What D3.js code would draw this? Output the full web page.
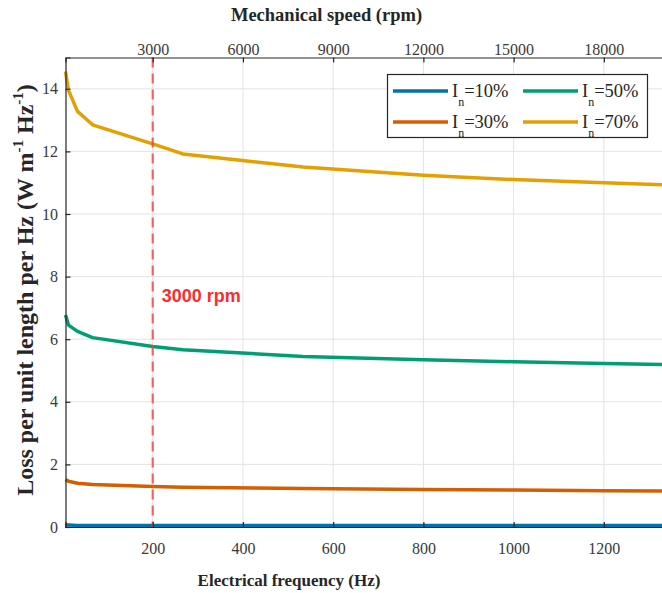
<!DOCTYPE html>
<html><head><meta charset="utf-8">
<script src="https://cdn.jsdelivr.net/npm/d3@7/dist/d3.min.js"></script>
<style>
html,body{margin:0;padding:0;background:#fff;overflow:hidden;}
text{font-family:"Liberation Serif","Times New Roman",serif;}
</style></head>
<body><svg id="c" width="662" height="593"></svg>
<script>
const freqHz = [6.67, 13.3, 33.3, 66.7, 200, 266.7, 533.3, 800, 1000, 1200, 1333.3];
const series10 = [0.06, 0.06, 0.05, 0.05, 0.05, 0.05, 0.05, 0.05, 0.05, 0.05, 0.05];
const series30 = [1.52, 1.46, 1.40, 1.36, 1.29, 1.27, 1.23, 1.20, 1.18, 1.16, 1.15];
const series50 = [6.77, 6.45, 6.25, 6.05, 5.77, 5.66, 5.45, 5.34, 5.28, 5.22, 5.19];
const series70 = [14.55, 13.95, 13.28, 12.85, 12.24, 11.92, 11.5, 11.24, 11.1, 11.0, 10.93];
const seriesNames = ["10%", "30%", "50%", "70%"];
const seriesColors = ["#0072B2", "#D55E00", "#009E73", "#E69F00"];
const xTicks = [200, 400, 600, 800, 1000, 1200];
const yTicks = [0, 2, 4, 6, 8, 10, 12, 14];
const rpmTicks = [3000, 6000, 9000, 12000, 15000, 18000];
const markerHz = 200;
const markerLabel = "3000 rpm";
const xDomain = [6.667, 1333.33];
const yDomain = [0, 15];
const polePairs = 4;

(function () {
const svg = d3.select("#c");
const L = 65.5, R = 664, T = 57.5, B = 527;
const x = d3.scaleLinear().domain(xDomain).range([L, R]);
const y = d3.scaleLinear().domain(yDomain).range([B, T]);
const xr = d3.scaleLinear().domain(xDomain.map(d => d * 60 / polePairs)).range([L, R]);
const serif = "'Liberation Serif','Times New Roman',serif";

const axisCol = "#262626";
const g = svg.append("g");
g.selectAll(".vg").data(xTicks).enter().append("line")
  .attr("x1", d => x(d)).attr("x2", d => x(d)).attr("y1", T).attr("y2", B)
  .attr("stroke", "#e3e3e3").attr("stroke-width", 1);
g.selectAll(".hg").data(yTicks.filter(d => d > 0)).enter().append("line")
  .attr("x1", L).attr("x2", R).attr("y1", d => y(d)).attr("y2", d => y(d))
  .attr("stroke", "#e3e3e3").attr("stroke-width", 1);

const allSeries = [series10, series30, series50, series70];
const line = d3.line().x(d => x(d[0])).y(d => y(d[1]));
allSeries.forEach((s, i) => {
  svg.append("path").datum(freqHz.map((f, j) => [f, s[j]]))
    .attr("d", line).attr("fill", "none")
    .attr("stroke", seriesColors[i]).attr("stroke-width", 3.5)
    .attr("stroke-linejoin", "round");
});

svg.append("line").attr("x1", x(markerHz)).attr("x2", x(markerHz))
  .attr("y1", T).attr("y2", B)
  .attr("stroke", "#ff3b3b").attr("stroke-opacity", 0.8).attr("stroke-width", 2.2)
  .attr("stroke-dasharray", "10,6");
svg.append("text").attr("x", x(markerHz) + 9).attr("y", 302)
  .style("font-family", "'Liberation Sans',Arial,sans-serif")
  .style("font-weight", "bold").style("font-size", "18px")
  .attr("fill", "#ff2a2a").text(markerLabel);

const fmt = d3.format("d");
const axB = d3.axisBottom(x).tickValues(xTicks).tickFormat(fmt).tickSize(-5).tickPadding(15.5);
const axL = d3.axisLeft(y).tickValues(yTicks).tickFormat(fmt).tickSize(-5).tickPadding(7.5);
const axT = d3.axisTop(xr).tickValues(rpmTicks).tickFormat(fmt).tickSize(-5).tickPadding(3);
function styleAxis(sel) {
  sel.attr("font-family", serif).attr("font-size", 16);
  sel.select(".domain").attr("stroke", axisCol).attr("stroke-width", 1.2);
  sel.selectAll(".tick line").attr("stroke", axisCol).attr("stroke-width", 1.2);
  sel.selectAll(".tick text").attr("fill", "#3a3a3a")
    .style("font-family", serif).style("font-size", "16px");
}
svg.append("g").attr("transform", `translate(0,${B})`).call(axB).call(styleAxis);
svg.append("g").attr("transform", `translate(${L},0)`).call(axL).call(styleAxis);
svg.append("g").attr("transform", `translate(0,${T})`).call(axT).call(styleAxis);
svg.append("line").attr("x1", R).attr("x2", R).attr("y1", T).attr("y2", B).attr("stroke", axisCol).attr("stroke-width", 1.2);

svg.append("text").attr("x", 289).attr("y", 586).attr("text-anchor", "middle")
  .style("font-weight", "bold").style("font-size", "17px").attr("fill", "#262626")
  .text("Electrical frequency (Hz)");
svg.append("text").attr("x", 326.5).attr("y", 21).attr("text-anchor", "middle")
  .style("font-weight", "bold").style("font-size", "18.5px").attr("fill", "#262626")
  .text("Mechanical speed (rpm)");
const yl = svg.append("text").attr("transform", `translate(33,290) rotate(-90)`)
  .attr("text-anchor", "middle").style("font-weight", "bold").style("font-size", "24px")
  .attr("fill", "#262626");
yl.append("tspan").text("Loss per unit length per Hz (W m");
yl.append("tspan").attr("dy", -10).style("font-size", "15px").text("-1");
yl.append("tspan").attr("dy", 10).text(" Hz");
yl.append("tspan").attr("dy", -10).style("font-size", "15px").text("-1");
yl.append("tspan").attr("dy", 10).text(")");

const lg = svg.append("g");
lg.append("rect").attr("x", 387.5).attr("y", 74.5).attr("width", 260).attr("height", 63)
  .attr("fill", "#fff").attr("stroke", axisCol).attr("stroke-width", 1.2);
const legPos = [[393, 91], [393, 122], [523, 91], [523, 122]];
seriesNames.forEach((n, i) => {
  const [lx, ly] = legPos[i];
  lg.append("line").attr("x1", lx).attr("x2", lx + 55).attr("y1", ly).attr("y2", ly)
    .attr("stroke", seriesColors[i]).attr("stroke-width", 3.5);
  const t = lg.append("text").attr("x", lx + 59).attr("y", ly + 6).style("font-size", "18.5px").attr("fill", "#262626");
  t.append("tspan").text("I");
  t.append("tspan").attr("dy", 9).style("font-size", "12px").text("n");
  t.append("tspan").attr("dy", -9).text("=" + n);
});
})();
</script></body></html>
